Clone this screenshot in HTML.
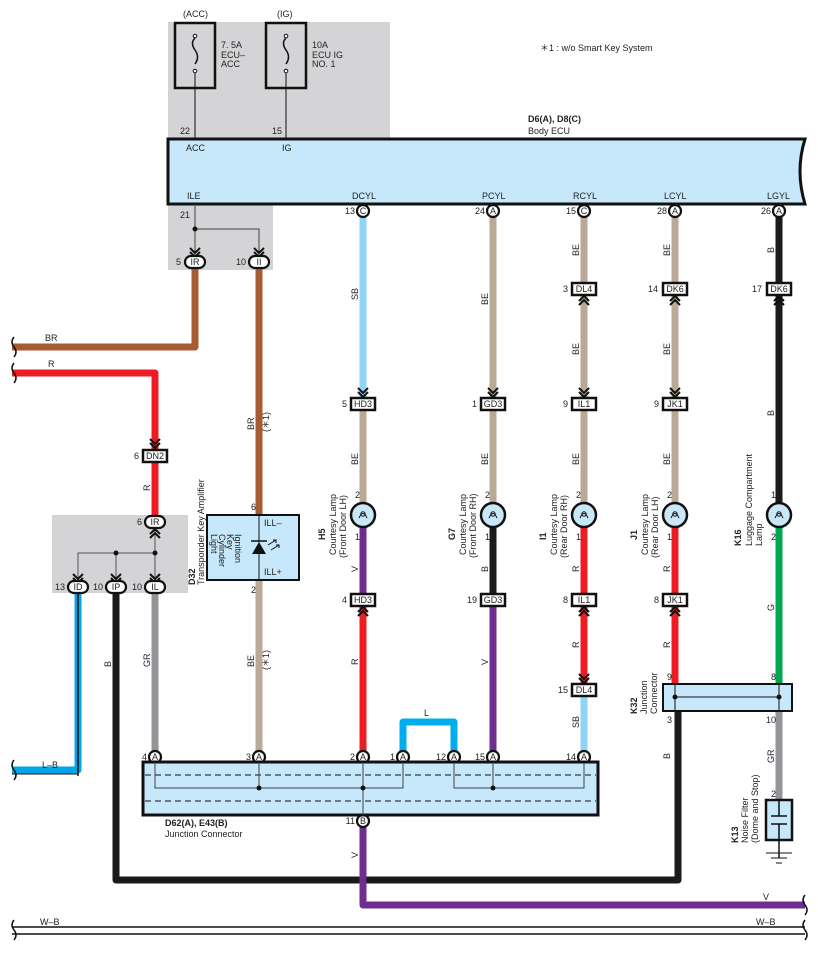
<!DOCTYPE html>
<html><head><meta charset="utf-8"><style>
html,body{margin:0;padding:0;background:#fff}
svg{display:block;font-family:"Liberation Sans",sans-serif}
text{font-size:9px;fill:#222}
.b{font-weight:bold}
</style></head><body>
<svg width="818" height="953" viewBox="0 0 818 953" xmlns="http://www.w3.org/2000/svg">
<defs>
<g id="dn"><path d="M-5,-9 L0,-4 L5,-9 M-5,-5 L0,0 L5,-5" fill="none" stroke="#111" stroke-width="2"/></g>
<g id="up"><path d="M-5,9 L0,4 L5,9 M-5,5 L0,0 L5,5" fill="none" stroke="#111" stroke-width="2"/></g>
<g id="lamp"><circle r="12" fill="#c8e8f8" stroke="#111" stroke-width="2.5"/><path d="M-4,3 Q0,-6 4,3" fill="none" stroke="#111" stroke-width="1"/><circle cx="0" cy="-1" r="2.2" fill="none" stroke="#111" stroke-width="1"/></g>
</defs>
<rect x="168" y="22" width="222" height="117" fill="#d4d4d6"/>
<rect x="168" y="204" width="105" height="66" fill="#d4d4d6"/>
<rect x="52" y="515" width="136" height="78" fill="#d4d4d6"/>
<rect x="175" y="23" width="40" height="65" fill="none" stroke="#111" stroke-width="2.5"/>
<rect x="266" y="23" width="40" height="65" fill="none" stroke="#111" stroke-width="2.5"/>
<path d="M195,38 q-5,5 0,12 q5,7 0,14" fill="none" stroke="#111" stroke-width="1.5"/>
<path d="M286,38 q-5,5 0,12 q5,7 0,14" fill="none" stroke="#111" stroke-width="1.5"/>
<circle cx="195" cy="36" r="1.8" fill="#fff" stroke="#111"/><circle cx="195" cy="71" r="1.8" fill="#fff" stroke="#111"/>
<circle cx="286" cy="36" r="1.8" fill="#fff" stroke="#111"/><circle cx="286" cy="71" r="1.8" fill="#fff" stroke="#111"/>
<line x1="195" y1="73" x2="195" y2="139" stroke="#111"/><line x1="286" y1="73" x2="286" y2="139" stroke="#111"/>
<text x="183" y="17">(ACC)</text><text x="277" y="17">(IG)</text>
<text x="221" y="48">7. 5A</text><text x="221" y="58">ECU–</text><text x="221" y="67">ACC</text>
<text x="312" y="48">10A</text><text x="312" y="58">ECU IG</text><text x="312" y="67">NO. 1</text>
<text x="180" y="134">22</text><text x="272" y="134">15</text>
<text x="540" y="51">＊1 : w/o Smart Key System</text>
<text x="528" y="122" class="b">D6(A), D8(C)</text><text x="528" y="134">Body ECU</text>
<path d="M168,139 L805,139 Q795,171 805,204 L168,204 Z" fill="#c6e8fa" stroke="#111" stroke-width="3"/>
<text x="186" y="151">ACC</text><text x="282" y="151">IG</text>
<text x="187" y="199">ILE</text><text x="352" y="199">DCYL</text><text x="482" y="199">PCYL</text><text x="573" y="199">RCYL</text><text x="664" y="199">LCYL</text><text x="767" y="199">LGYL</text>
<path d="M195,204 V258 M195,229 H259 V258" fill="none" stroke="#444" stroke-width="1"/>
<circle cx="195" cy="229" r="2.5" fill="#111"/>
<text x="180" y="218">21</text>
<g fill="none" stroke-width="7" stroke-linejoin="round">
<path d="M195,268 V347 H12" stroke="#a85a32"/>
<path d="M259,268 V515" stroke="#a85a32"/>
<path d="M259,580 V752" stroke="#baa995"/>
<path d="M12,373 H155 V450" stroke="#ec1c24"/>
<path d="M155,462 V516" stroke="#ec1c24"/>
<path d="M116,593 V880 H678 V711" stroke="#1a1a1a"/>
<path d="M155,593 V752" stroke="#939598"/>
<path d="M78,593 V770 H12" stroke="#00a7e8"/>
<path d="M363,217 V398" stroke="#8fd6f6"/>
<path d="M363,410 V503" stroke="#baa995"/>
<path d="M363,527 V594" stroke="#6f2c91"/>
<path d="M363,606 V752" stroke="#ec1c24"/>
<path d="M493,217 V398 M493,410 V503" stroke="#baa995"/>
<path d="M493,527 V594" stroke="#1a1a1a"/>
<path d="M493,606 V752" stroke="#6f2c91"/>
<path d="M584,217 V283 M584,295 V398 M584,410 V503" stroke="#baa995"/>
<path d="M584,527 V594 M584,606 V684" stroke="#ec1c24"/>
<path d="M584,696 V752" stroke="#8fd6f6"/>
<path d="M675,217 V283 M675,295 V398 M675,410 V503" stroke="#baa995"/>
<path d="M675,527 V594 M675,606 V684" stroke="#ec1c24"/>
<path d="M779,217 V503" stroke="#1a1a1a"/>
<path d="M779,527 V684" stroke="#00a651"/>
<path d="M779,711 V800" stroke="#939598"/>
<path d="M403,752 V722 H454 V752" stroke="#00aeef"/>
<path d="M363,827 V905 H805" stroke="#6f2c91"/>
</g>
<line x1="78" y1="593" x2="78" y2="776" stroke="#111" stroke-width="1.5"/>
<line x1="78" y1="774" x2="12" y2="774" stroke="#111" stroke-width="1"/>
<path d="M12,930.5 H805" stroke="#fff" stroke-width="5"/>
<path d="M12,927 H805 M12,934 H805" stroke="#111" stroke-width="1.5"/>
<g fill="none" stroke="#111" stroke-width="1.5">
<path d="M14,337 q-4,5 0,10 q4,5 0,10"/><path d="M14,363 q-4,5 0,10 q4,5 0,10"/>
<path d="M14,760 q-4,5 0,10 q4,5 0,10"/><path d="M14,920 q-4,5 0,10 q4,5 0,10"/>
<path d="M805,895 q-4,5 0,10 q4,5 0,10"/><path d="M805,920 q-4,5 0,10 q4,5 0,10"/>
</g>
<text x="45" y="341">BR</text><text x="48" y="367">R</text><text x="42" y="768">L–B</text>
<text x="40" y="925">W–B</text><text x="756" y="925">W–B</text><text x="763" y="900">V</text>
<path d="M155,528 V582 M155,553 H78 V582 M116,553 V582" fill="none" stroke="#555" stroke-width="1"/>
<circle cx="155" cy="553" r="2.5" fill="#111"/><circle cx="116" cy="553" r="2.5" fill="#111"/>
<use href="#up" x="155" y="529"/>
<use href="#dn" x="155" y="583"/><use href="#dn" x="116" y="583"/><use href="#dn" x="78" y="583"/>
<use href="#dn" x="155" y="448"/>
<use href="#dn" x="195" y="257"/><use href="#dn" x="259" y="257"/>
<g stroke="#111" stroke-width="2.2" fill="#fff">
<rect x="185" y="256" width="20" height="12" rx="6"/><rect x="249" y="256" width="20" height="12" rx="6"/>
<rect x="145" y="516" width="20" height="12" rx="6"/>
<rect x="68" y="581" width="20" height="12" rx="6"/><rect x="106" y="581" width="20" height="12" rx="6"/><rect x="145" y="581" width="20" height="12" rx="6"/>
</g>
<g style="font-size:9px" text-anchor="middle">
<text x="195" y="265">IR</text><text x="259" y="265">II</text><text x="155" y="525">IR</text>
<text x="78" y="590">ID</text><text x="116" y="590">IP</text><text x="155" y="590">IL</text>
</g>
<text x="176" y="265">5</text><text x="236" y="265">10</text><text x="137" y="525">6</text>
<text x="55" y="590">13</text><text x="93" y="590">10</text><text x="132" y="590">10</text>
<g stroke="#111" stroke-width="2.5" fill="#fff">
<rect x="143" y="450" width="24" height="12"/>
<rect x="351" y="398" width="24" height="12"/><rect x="351" y="594" width="24" height="12"/>
<rect x="481" y="398" width="24" height="12"/><rect x="481" y="594" width="24" height="12"/>
<rect x="572" y="283" width="24" height="12"/><rect x="572" y="398" width="24" height="12"/><rect x="572" y="594" width="24" height="12"/><rect x="572" y="684" width="24" height="12"/>
<rect x="663" y="283" width="24" height="12"/><rect x="663" y="398" width="24" height="12"/><rect x="663" y="594" width="24" height="12"/>
<rect x="767" y="283" width="24" height="12"/>
</g>
<g text-anchor="middle">
<text x="155" y="459">DN2</text>
<text x="363" y="407">HD3</text><text x="363" y="603">HD3</text>
<text x="493" y="407">GD3</text><text x="493" y="603">GD3</text>
<text x="584" y="292">DL4</text><text x="584" y="407">IL1</text><text x="584" y="603">IL1</text><text x="584" y="693">DL4</text>
<text x="675" y="292">DK6</text><text x="675" y="407">JK1</text><text x="675" y="603">JK1</text>
<text x="779" y="292">DK6</text>
</g>
<text x="134" y="459">6</text>
<text x="342" y="407">5</text><text x="342" y="603">4</text>
<text x="472" y="407">1</text><text x="467" y="603">19</text>
<text x="563" y="292">3</text><text x="563" y="407">9</text><text x="563" y="603">8</text><text x="558" y="693">15</text>
<text x="648" y="292">14</text><text x="654" y="407">9</text><text x="654" y="603">8</text>
<text x="752" y="292">17</text>
<use href="#dn" x="363" y="397"/><use href="#up" x="363" y="607"/>
<use href="#dn" x="493" y="397"/>
<use href="#up" x="584" y="296"/><use href="#dn" x="584" y="397"/><use href="#up" x="584" y="607"/><use href="#dn" x="584" y="683"/>
<use href="#up" x="675" y="296"/><use href="#dn" x="675" y="397"/><use href="#up" x="675" y="607"/>
<use href="#up" x="779" y="296"/>
<g stroke="#111" stroke-width="2.2" fill="#fff">
<circle cx="363" cy="211" r="6"/><circle cx="493" cy="211" r="6"/><circle cx="584" cy="211" r="6"/><circle cx="675" cy="211" r="6"/><circle cx="779" cy="211" r="6"/>
<circle cx="155" cy="757" r="6"/><circle cx="259" cy="757" r="6"/><circle cx="363" cy="757" r="6"/><circle cx="403" cy="757" r="6"/><circle cx="454" cy="757" r="6"/><circle cx="493" cy="757" r="6"/><circle cx="584" cy="757" r="6"/>
<circle cx="363" cy="821" r="6"/>
</g>
<g text-anchor="middle" style="font-size:8px">
<text x="363" y="214">C</text><text x="493" y="214">A</text><text x="584" y="214">C</text><text x="675" y="214">A</text><text x="779" y="214">A</text>
<text x="155" y="760">A</text><text x="259" y="760">A</text><text x="363" y="760">A</text><text x="403" y="760">A</text><text x="454" y="760">A</text><text x="493" y="760">A</text><text x="584" y="760">A</text>
<text x="363" y="824">B</text>
</g>
<g text-anchor="end">
<text x="355" y="214">13</text><text x="485" y="214">24</text><text x="576" y="214">15</text><text x="667" y="214">28</text><text x="771" y="214">26</text>
<text x="147" y="760">4</text><text x="251" y="760">3</text><text x="355" y="760">2</text><text x="395" y="760">1</text><text x="446" y="760">12</text><text x="485" y="760">15</text><text x="576" y="760">14</text>
<text x="355" y="824">11</text>
</g>
<text x="424" y="716">L</text>
<use href="#lamp" x="363" y="515"/><use href="#lamp" x="493" y="515"/><use href="#lamp" x="584" y="515"/><use href="#lamp" x="675" y="515"/><use href="#lamp" x="779" y="515"/>
<g text-anchor="end">
<text x="360" y="498">2</text><text x="360" y="540">1</text>
<text x="490" y="498">2</text><text x="490" y="540">1</text>
<text x="581" y="498">2</text><text x="581" y="540">1</text>
<text x="672" y="498">2</text><text x="672" y="540">1</text>
<text x="776" y="498">1</text><text x="776" y="540">2</text>
<text x="256" y="510">6</text><text x="256" y="593">2</text>
<text x="672" y="680">9</text><text x="776" y="680">8</text>
<text x="672" y="723">3</text><text x="776" y="723">10</text><text x="776" y="797">2</text>
</g>
<rect x="207" y="515" width="92" height="65" fill="#c6e8fa" stroke="#111" stroke-width="2"/>
<line x1="259" y1="515" x2="259" y2="580" stroke="#111" stroke-width="1"/>
<path d="M252,554 L266,554 L259,542 Z" fill="#111"/><line x1="251" y1="541" x2="267" y2="541" stroke="#111" stroke-width="1.5"/>
<path d="M268,545 l8,-5 m-3,0 h3 v3 M271,550 l8,-5 m-3,0 h3 v3" fill="none" stroke="#111" stroke-width="1"/>
<text x="264" y="526">ILL–</text><text x="264" y="575">ILL+</text>
<g transform="translate(215,534) rotate(90)" style="font-size:8.5px"><text x="0" y="-20">Ignition</text><text x="0" y="-12">Key</text><text x="0" y="-4">Cylinder</text><text x="0" y="4">Light</text></g>
<g style="font-size:9px">
<text transform="translate(195,585) rotate(-90)" class="b">D32</text>
<text transform="translate(204,585) rotate(-90)">Transponder Key Amplifier</text>
<text transform="translate(325,540) rotate(-90)" class="b">H5</text>
<text transform="translate(336,555) rotate(-90)">Courtesy Lamp</text>
<text transform="translate(346,558) rotate(-90)">(Front Door LH)</text>
<text transform="translate(455,540) rotate(-90)" class="b">G7</text>
<text transform="translate(466,555) rotate(-90)">Courtesy Lamp</text>
<text transform="translate(476,558) rotate(-90)">(Front Door RH)</text>
<text transform="translate(546,540) rotate(-90)" class="b">I1</text>
<text transform="translate(557,555) rotate(-90)">Courtesy Lamp</text>
<text transform="translate(567,558) rotate(-90)">(Rear Door RH)</text>
<text transform="translate(637,540) rotate(-90)" class="b">J1</text>
<text transform="translate(648,555) rotate(-90)">Courtesy Lamp</text>
<text transform="translate(658,558) rotate(-90)">(Rear Door LH)</text>
<text transform="translate(741,546) rotate(-90)" class="b">K16</text>
<text transform="translate(752,546) rotate(-90)">Luggage Compartment</text>
<text transform="translate(762,546) rotate(-90)">Lamp</text>
<text transform="translate(637,714) rotate(-90)" class="b">K32</text>
<text transform="translate(647,714) rotate(-90)">Junction</text>
<text transform="translate(657,714) rotate(-90)">Connector</text>
<text transform="translate(738,843) rotate(-90)" class="b">K13</text>
<text transform="translate(748,843) rotate(-90)">Noise Filter</text>
<text transform="translate(758,843) rotate(-90)">(Dome and Stop)</text>
<text transform="translate(358,300) rotate(-90)">SB</text>
<text transform="translate(358,465) rotate(-90)">BE</text>
<text transform="translate(358,572) rotate(-90)">V</text>
<text transform="translate(358,665) rotate(-90)">R</text>
<text transform="translate(488,305) rotate(-90)">BE</text>
<text transform="translate(488,465) rotate(-90)">BE</text>
<text transform="translate(488,572) rotate(-90)">B</text>
<text transform="translate(488,665) rotate(-90)">V</text>
<text transform="translate(579,256) rotate(-90)">BE</text>
<text transform="translate(579,355) rotate(-90)">BE</text>
<text transform="translate(579,465) rotate(-90)">BE</text>
<text transform="translate(579,572) rotate(-90)">R</text>
<text transform="translate(579,648) rotate(-90)">R</text>
<text transform="translate(579,728) rotate(-90)">SB</text>
<text transform="translate(670,256) rotate(-90)">BE</text>
<text transform="translate(670,355) rotate(-90)">BE</text>
<text transform="translate(670,465) rotate(-90)">BE</text>
<text transform="translate(670,572) rotate(-90)">R</text>
<text transform="translate(670,648) rotate(-90)">R</text>
<text transform="translate(774,253) rotate(-90)">B</text>
<text transform="translate(774,416) rotate(-90)">B</text>
<text transform="translate(774,611) rotate(-90)">G</text>
<text transform="translate(774,763) rotate(-90)">GR</text>
<text transform="translate(670,759) rotate(-90)">B</text>
<text transform="translate(150,491) rotate(-90)">R</text>
<text transform="translate(150,667) rotate(-90)">GR</text>
<text transform="translate(111,667) rotate(-90)">B</text>
<text transform="translate(254,430) rotate(-90)">BR</text>
<text transform="translate(269,432) rotate(-90)">(＊1)</text>
<text transform="translate(254,667) rotate(-90)">BE</text>
<text transform="translate(269,670) rotate(-90)">(＊1)</text>
<text transform="translate(358,858) rotate(-90)">V</text>
</g>
<rect x="143" y="762" width="455" height="53" fill="#c6e8fa" stroke="#111" stroke-width="3"/>
<path d="M145,775 H596 M145,801 H596" stroke="#111" stroke-width="1" stroke-dasharray="6,4"/>
<path d="M155,763 V788 H403 V763 M259,763 V788 M363,763 V815 M454,763 V788 H584 V763 M493,763 V788" fill="none" stroke="#444" stroke-width="1"/>
<circle cx="259" cy="788" r="2.5" fill="#111"/><circle cx="363" cy="788" r="2.5" fill="#111"/><circle cx="493" cy="788" r="2.5" fill="#111"/>
<text x="165" y="826" class="b">D62(A), E43(B)</text><text x="165" y="837">Junction Connector</text>
<rect x="663" y="684" width="129" height="27" fill="#c6e8fa" stroke="#111" stroke-width="2"/>
<path d="M675,684 V711 M779,684 V711 M675,697 H779" stroke="#111" stroke-width="1"/>
<circle cx="675" cy="697" r="2.5" fill="#111"/><circle cx="779" cy="697" r="2.5" fill="#111"/>
<rect x="766" y="800" width="26" height="40" fill="#c6e8fa" stroke="#111" stroke-width="2.5"/>
<path d="M779,800 V816 M779,824 V858 M771,816 H787 M771,824 H787" stroke="#111" stroke-width="1.5"/>
<path d="M766,853 H792 M771,858 H787 M776,863 H782" stroke="#111" stroke-width="1"/>
</svg>
</body></html>
